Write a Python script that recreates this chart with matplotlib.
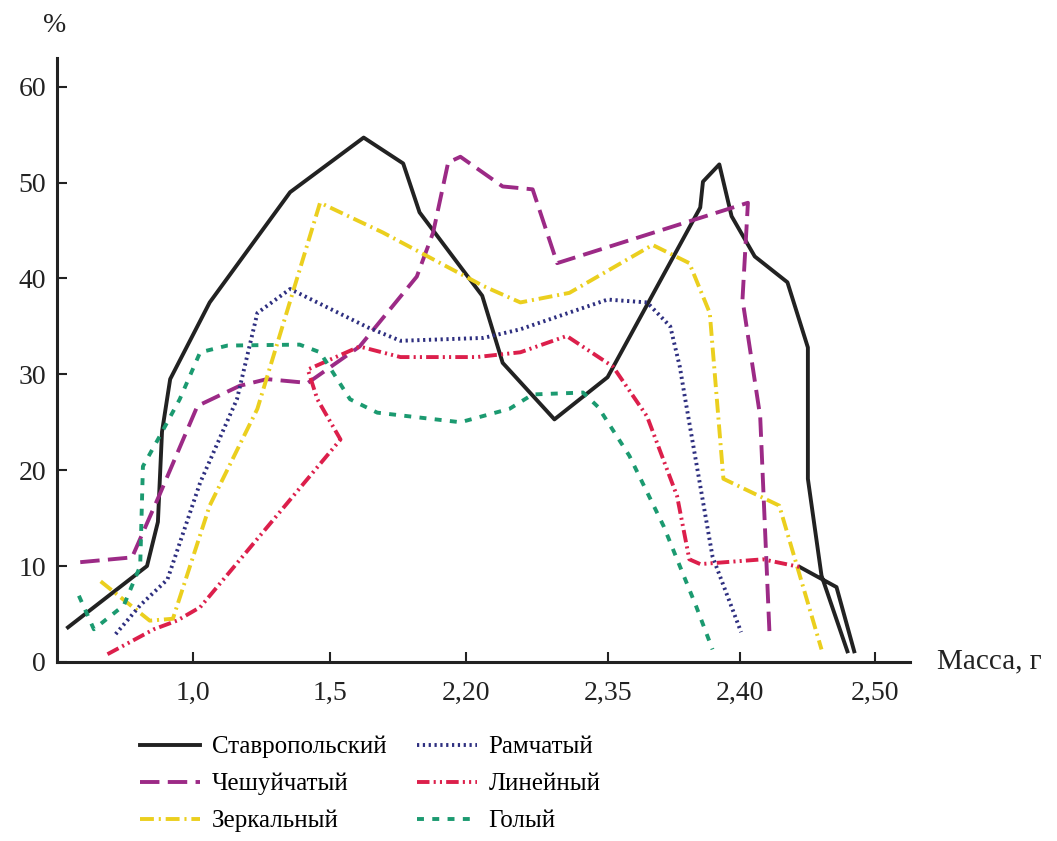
import numpy as np
import matplotlib.pyplot as plt

plt.rcParams['font.family'] = ['Liberation Serif', 'DejaVu Serif']
plt.rcParams['lines.scale_dashes'] = False

nan = np.nan

# x is the position along the axis; tick labels sit at these positions
tick_pos = [1, 2, 3, 4.04, 5.01, 6]
tick_lab = ['1,0', '1,5', '2,20', '2,35', '2,40', '2,50']

stavr_x = [0.08, 0.66, 0.74, 0.77, 0.83, 1.12, 1.71, 2.25, 2.54, 2.66, 3.12, 3.27,
           3.65, 4.04, 4.72, 4.74, 4.86, 4.95, 5.12, 5.36, 5.51, 5.51, 5.61, 5.80,
           nan, 5.45, 5.72, 5.85]
stavr_y = [3.6, 10.0, 14.6, 24.0, 29.5, 37.5, 49.0, 54.7, 52.0, 46.9, 38.2, 31.2,
           25.3, 29.7, 47.4, 50.1, 51.9, 46.5, 42.3, 39.6, 32.8, 19.1, 9.0, 1.1,
           nan, 9.9, 7.8, 1.1]

cheshu_x = [0.17, 0.55, 0.76, 1.03, 1.34, 1.54, 1.84, 2.22, 2.64, 2.76, 2.87, 2.96,
            3.27, 3.49, 3.67, 5.07, 5.03, 5.16, 5.23]
cheshu_y = [10.4, 10.9, 17.7, 26.7, 28.8, 29.5, 29.1, 32.9, 40.2, 44.8, 52.1, 52.7,
            49.6, 49.3, 41.6, 47.9, 37.8, 25.6, 2.4]

zerk_x = [0.32, 0.68, 0.85, 1.12, 1.47, 1.93, 2.39, 3.13, 3.40, 3.76, 4.37, 4.64,
          4.79, 4.89, 5.30, 5.61]
zerk_y = [8.4, 4.3, 4.5, 16.3, 26.4, 47.9, 44.8, 39.2, 37.5, 38.5, 43.5, 41.6,
          36.4, 19.1, 16.3, 1.3]

ramch_x = [0.43, 0.61, 0.81, 1.05, 1.32, 1.47, 1.71, 2.28, 2.52, 3.13, 3.40, 4.04,
           4.33, 4.50, 4.57, 4.61, 4.81, 5.02]
ramch_y = [2.9, 5.9, 8.6, 18.7, 27.4, 36.4, 38.9, 34.9, 33.5, 33.8, 34.7, 37.8,
           37.5, 35.0, 30.8, 27.4, 11.0, 3.1]

lin_x = [0.37, 0.71, 0.88, 1.05, 2.08, 1.91, 1.84, 2.22, 2.52, 3.08, 3.40, 3.74,
         4.08, 4.33, 4.55, 4.64, 4.72, 5.18, 5.45]
lin_y = [0.8, 3.4, 4.3, 5.7, 23.2, 27.4, 30.5, 32.9, 31.8, 31.8, 32.3, 34.0,
         30.8, 25.6, 17.3, 10.7, 10.2, 10.7, 9.9]

goly_x = [0.16, 0.27, 0.49, 0.61, 0.63, 0.74, 0.90, 1.05, 1.25, 1.78, 1.93, 2.15,
          2.35, 2.96, 3.32, 3.49, 3.86, 3.97, 4.20, 4.45, 4.69, 4.81]
goly_y = [6.9, 3.4, 5.9, 10.0, 20.4, 23.2, 27.4, 32.3, 33.0, 33.1, 32.3, 27.4,
          26.0, 25.0, 26.4, 27.9, 28.1, 26.6, 21.5, 14.2, 5.8, 1.3]

fig = plt.figure(figsize=(10.57, 8.41), dpi=100)
ax = fig.add_axes([0.054, 0.213, 0.807, 0.718])

lw = 2.8
l1, = ax.plot(stavr_x, stavr_y, color='#222222', lw=lw, ls='-', label='Ставропольский')
l2, = ax.plot(cheshu_x, cheshu_y, color='#9c2a86', lw=lw, ls=(0, (14, 6)), label='Чешуйчатый')
l3, = ax.plot(zerk_x, zerk_y, color='#ebcf1e', lw=lw, ls=(0, (10, 3.5, 1.5, 3.5)), label='Зеркальный')
l4, = ax.plot(ramch_x, ramch_y, color='#2e2f80', lw=lw, ls=(0, (1.6, 2.6)), label='Рамчатый')
l5, = ax.plot(lin_x, lin_y, color='#dc1f4b', lw=lw, ls=(0, (9, 3, 1.5, 3, 1.5, 3)), label='Линейный')
l6, = ax.plot(goly_x, goly_y, color='#1b9a70', lw=lw, ls=(0, (5, 6)), label='Голый')

ax.set_xlim(0, 6.26)
ax.set_ylim(0, 63)
for s in ['top', 'right']:
    ax.spines[s].set_visible(False)
for s in ['left', 'bottom']:
    ax.spines[s].set_linewidth(2.2)
    ax.spines[s].set_color('#222222')

ax.set_xticks(tick_pos)
ax.set_xticklabels(tick_lab)
ax.set_yticks(range(0, 61, 10))
ax.tick_params(direction='in', length=7, width=1.5, colors='#222222',
               labelsize=20, pad=8)
ax.tick_params(axis='x', pad=14)

fig.text(0.052, 0.97, '%', fontsize=20, ha='center', va='center', color='#222222')
fig.text(0.886, 0.213, 'Масса, г', fontsize=21, ha='left', va='center', color='#222222')

# two legend columns placed separately
leg_kw = dict(loc='upper left', frameon=False, fontsize=18, handlelength=2.4,
              handletextpad=0.45, labelspacing=0.58, borderpad=0)
fig.legend(handles=[l1, l2, l3], bbox_to_anchor=(0.121, 0.140), **leg_kw)
fig.legend(handles=[l4, l5, l6], bbox_to_anchor=(0.383, 0.140), **leg_kw)

fig.savefig('out.png', dpi=100)
